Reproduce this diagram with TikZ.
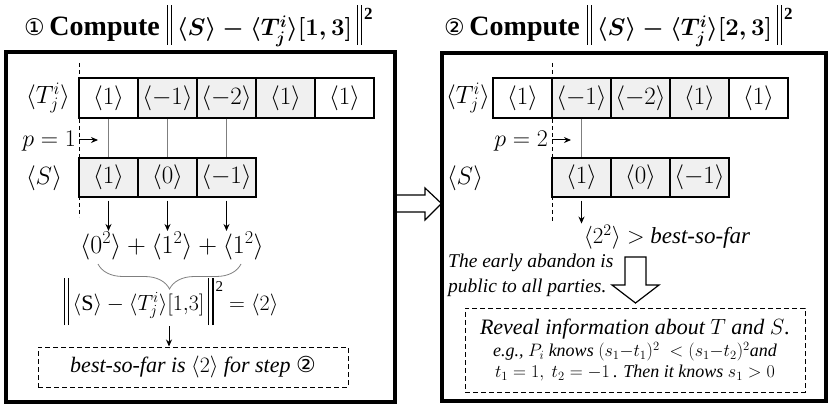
\RequirePackage{fix-cm}
\documentclass[tikz,border=0pt]{standalone}
\usepackage{amsmath}
\usepackage{fontspec}
\setmainfont{Liberation Serif}
\newfontfamily\symfont{DejaVu Sans}
\usetikzlibrary{arrows.meta,decorations.pathreplacing}
\definecolor{cellgray}{HTML}{F0F0F0}
\definecolor{linegray}{HTML}{7F7F7F}
% double norm bars: #1 = depth below baseline, #2 = total height
\newcommand{\normbars}[2]{\mathord{\rule[-#1]{1.2pt}{#2}\kern3pt\rule[-#1]{1.2pt}{#2}}}
\tikzset{
  cell/.style={draw, line width=1.1pt, minimum width=59pt, minimum height=40pt, inner sep=0pt, font=\fontsize{25}{27}\selectfont},
  gcell/.style={cell, fill=cellgray},
  bigbox/.style={draw, line width=3.5pt, inner sep=0pt},
  dbox/.style={draw, dashed, dash pattern=on 5pt off 3pt, line width=1pt, inner sep=0pt},
  arr/.style={-{Stealth[length=7pt,width=6pt]}, line width=1pt},
  link/.style={draw=linegray, line width=1pt},
  vdash/.style={dash pattern=on 4pt off 3pt, line width=0.9pt},
  blockarrow/.style={draw, fill=white, line width=1.2pt, line join=miter},
  lbl/.style={inner sep=1pt, font=\fontsize{25}{27}\selectfont},
  ttl/.style={inner sep=0pt, anchor=base west, font=\fontsize{28}{32}\selectfont\bfseries}
}
\begin{document}
\begin{tikzpicture}[x=1pt,y=-1pt]
\useasboundingbox (0,0) rectangle (831,409);
% block arrow between panels (drawn first)
\draw[blockarrow] (395,195) -- (425,195) -- (425,188) -- (441.5,203.5) -- (425,220) -- (425,212) -- (395,212) -- cycle;
% panels
\node[bigbox, minimum width=389pt, minimum height=350pt] (boxA) at (200.5,227) {};
\node[bigbox, minimum width=384pt, minimum height=348pt] (boxB) at (634,227) {};
% titles
\node[ttl] (titleA) at (24,36) {{\mdseries\fontsize{23}{26}\selectfont\symfont ①}\,Compute {\fontsize{24}{30}\selectfont\boldmath$\normbars{9pt}{40pt}\,\langle S\rangle - \langle T_j^i\rangle[1,3]\,\normbars{9pt}{40pt}\kern2pt\raisebox{16pt}{\fontsize{17}{18}\selectfont 2}$}};
\node[ttl] (titleB) at (444,36) {{\mdseries\fontsize{23}{26}\selectfont\symfont ②}\,Compute {\fontsize{24}{30}\selectfont\boldmath$\normbars{9pt}{40pt}\,\langle S\rangle - \langle T_j^i\rangle[2,3]\,\normbars{9pt}{40pt}\kern2pt\raisebox{16pt}{\fontsize{17}{18}\selectfont 2}$}};

% ---------- left panel ----------
\draw[vdash] (79,63) -- (79,217);
\node[lbl] (tA) at (48,98) {$\langle T_j^i\rangle$};
\node[lbl] (sA) at (44,178) {$\langle S\rangle$};
\node[cell] (a1) at (108.5,98) {$\langle 1\rangle$};
\node[gcell] (a2) at (167.5,98) {$\langle -1\rangle$};
\node[gcell] (a3) at (226.5,98) {$\langle -2\rangle$};
\node[gcell] (a4) at (285.5,98) {$\langle 1\rangle$};
\node[cell] (a5) at (344.5,98) {$\langle 1\rangle$};
\node[gcell, minimum height=39pt] (s1) at (108.5,177.5) {$\langle 1\rangle$};
\node[gcell, minimum height=39pt] (s2) at (167.5,177.5) {$\langle 0\rangle$};
\node[gcell, minimum height=39pt] (s3) at (226.5,177.5) {$\langle -1\rangle$};
\draw[link] (a1) -- (s1);
\draw[link] (a2) -- (s2);
\draw[link] (a3) -- (s3);
\node[lbl, anchor=east, font=\fontsize{24}{26}\selectfont] (pA) at (77,141) {$p=1$};
\coordinate (pAs) at (79,140);
\coordinate (pAe) at (98,140);
\draw[arr] (pAs) -- (pAe);
\node[inner sep=1pt, font=\fontsize{26}{28}\selectfont] (sum) at (172,246) {$\langle 0^2\rangle + \langle 1^2\rangle + \langle 1^2\rangle$};
\draw[arr] ([yshift=-3pt]s1.south) -- (s1.south |- sum.north);
\draw[arr] ([yshift=-3pt]s2.south) -- (s2.south |- sum.north);
\draw[arr] ([yshift=-3pt]s3.south) -- (s3.south |- sum.north);
\draw[linegray, line width=0.8pt, decorate, decoration={brace, mirror, amplitude=25pt}] (98,264) -- (241,264);
\node[inner sep=1pt, font=\fontsize{22}{26}\selectfont, anchor=base] (norm) at (171,310) {$\normbars{15pt}{47pt}\,\langle \mathrm{S}\rangle - \langle T_j^i\rangle[1{,}3]\,\normbars{15pt}{47pt}\kern2pt\raisebox{19pt}{\fontsize{15}{16}\selectfont 2} = \langle 2\rangle$};
\node[dbox, minimum width=310pt, minimum height=40pt, font=\fontsize{22}{24}\selectfont] (bestA) at (193,367) {\textit{best-so-far is} $\langle 2\rangle$ \textit{for step} {\symfont ②}};
\coordinate (nb) at (169,326);
\draw[arr] (nb) -- (nb |- bestA.north);

% ---------- right panel ----------
\draw[vdash] (552,63) -- (552,221);
\node[lbl] (tB) at (468,98) {$\langle T_j^i\rangle$};
\node[lbl] (sB) at (465,178) {$\langle S\rangle$};
\node[cell] (b1) at (522.5,98) {$\langle 1\rangle$};
\node[gcell] (b2) at (581.5,98) {$\langle -1\rangle$};
\node[gcell] (b3) at (640.5,98) {$\langle -2\rangle$};
\node[gcell] (b4) at (699.5,98) {$\langle 1\rangle$};
\node[cell] (b5) at (758.5,98) {$\langle 1\rangle$};
\node[gcell, minimum height=39pt] (t1) at (581.5,177.5) {$\langle 1\rangle$};
\node[gcell, minimum height=39pt] (t2) at (640.5,177.5) {$\langle 0\rangle$};
\node[gcell, minimum height=39pt] (t3) at (699.5,177.5) {$\langle -1\rangle$};
\draw[link] (b2) -- (t1);
\node[lbl, anchor=east, font=\fontsize{24}{26}\selectfont] (pB) at (549,141) {$p=2$};
\coordinate (pBs) at (552,140);
\coordinate (pBe) at (571,140);
\draw[arr] (pBs) -- (pBe);
\node[inner sep=1pt, font=\fontsize{23}{25}\selectfont] (cmp) at (667,237) {$\langle 2^2\rangle >$ \textit{best-so-far}};
\draw[arr] ([yshift=-3pt]t1.south) -- (t1.south |- cmp.north);
\node[inner sep=0pt, anchor=west, align=left, font=\fontsize{19.5}{25}\selectfont\itshape] (pub) at (448,275.5) {The early abandon is\\ public to all parties.};
\draw[blockarrow] (625,257) -- (646,257) -- (646,285) -- (659,285) -- (635.5,303) -- (612,285) -- (625,285) -- cycle;
\node[dbox, minimum width=340pt, minimum height=84pt, align=center] (rev) at (635,350) {%
  {\fontsize{22}{24}\selectfont\itshape Reveal information about $T$ and $S$.}\\[2pt]
  {\fontsize{18}{20}\selectfont\itshape e.g., $P_i$ knows $(s_1{-}t_1)^2\;<(s_1{-}t_2)^2$and}\\[3pt]
  {\fontsize{18}{20}\selectfont $t_1=1,\ t_2=-1$\,. \textit{Then it knows} $s_1>0$}};
\end{tikzpicture}
\end{document}
